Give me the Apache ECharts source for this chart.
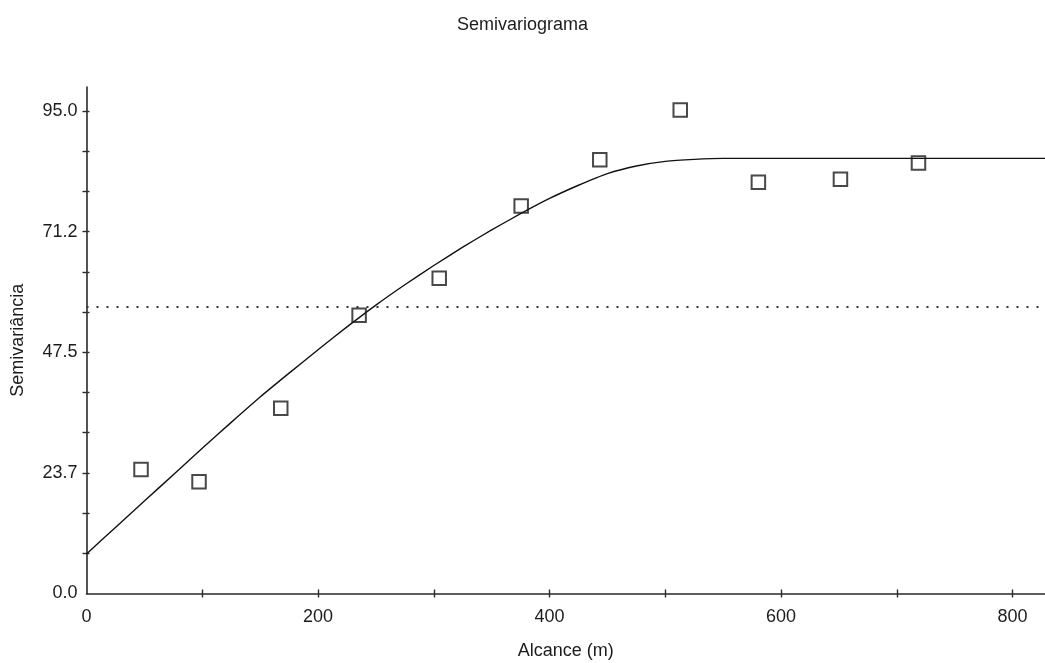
<!DOCTYPE html>
<html>
<head>
<meta charset="utf-8">
<script src="https://cdn.jsdelivr.net/npm/echarts@6/dist/echarts.min.js"></script>
<style>
  html, body { margin: 0; padding: 0; background: #fff; }
  #chart { width: 1045px; height: 663px; }
</style>
</head>
<body>
<div id="chart"></div>
<script>
// Experimental semivariance by lag distance
const lagDistance = [47.1, 97.2, 167.8, 235.5, 304.7, 375.5, 443.4, 512.9, 580.4, 651.3, 718.7];
const semivariance = [24.4, 22.0, 36.5, 54.8, 62.1, 76.3, 85.4, 95.2, 81.0, 81.6, 84.8];

// Fitted model curve
const modelDistance = [0, 25, 50, 75, 100, 125, 150, 175, 200, 225, 250, 275, 300, 325, 350, 375, 400, 425, 450, 475, 500, 525, 550, 828];
const modelValue = [7.8, 13.0, 18.2, 23.4, 28.6, 33.7, 38.7, 43.4, 48.0, 52.5, 56.8, 60.8, 64.6, 68.2, 71.6, 74.8, 77.8, 80.4, 82.7, 84.2, 85.1, 85.5, 85.7, 85.7];

// Sample variance reference line
const sampleVariance = 56.4;

// Axis ticks and labels
const xMax = 828;
const xLabelValues = [0, 200, 400, 600, 800];
const xTickValues = [100, 200, 300, 400, 500, 600, 700, 800];
const yMax = 99.75;
const yLabelValues = [0, 23.75, 47.5, 71.25, 95];
const yLabelText = ['0.0', '23.7', '47.5', '71.2', '95.0'];
const yTickStep = 95 / 12;

const yTickValues = [];
for (let i = 1; i <= 12; i++) yTickValues.push(i * yTickStep);

const FONT = '"Liberation Sans", Arial, sans-serif';
const TEXT = '#1c1c1c';
const AXIS = '#2a2a2a';

const chart = echarts.init(document.getElementById('chart'), null, { renderer: 'canvas' });

const baseX = {
  type: 'value', min: 0, max: xMax, interval: 100,
  splitLine: { show: false }
};
const baseY = {
  type: 'value', min: 0, max: yMax, interval: yTickStep,
  splitLine: { show: false }
};

chart.setOption({
  animation: false,
  backgroundColor: '#fff',
  title: {
    text: 'Semivariograma',
    left: 'center', top: 11,
    textStyle: { fontFamily: FONT, fontSize: 18, fontWeight: 'normal', color: TEXT }
  },
  grid: { left: 86.5, right: 0, top: 87, bottom: 69.5, containLabel: false, outerBoundsMode: 'none' },
  xAxis: [
    Object.assign({}, baseX, {
      position: 'bottom',
      name: 'Alcance (m)', nameLocation: 'middle', nameGap: 49,
      nameTextStyle: { fontFamily: FONT, fontSize: 18, color: TEXT },
      axisLine: { lineStyle: { color: AXIS, width: 1.6 } },
      axisTick: { show: true, inside: false, length: 4, customValues: xTickValues, lineStyle: { color: AXIS, width: 1.4 } },
      axisLabel: { customValues: xLabelValues, margin: 15, fontFamily: FONT, fontSize: 18, color: TEXT }
    }),
    Object.assign({}, baseX, {
      position: 'bottom',
      axisLine: { show: false },
      axisTick: { show: true, inside: true, length: 4, customValues: xTickValues, lineStyle: { color: AXIS, width: 1.4 } },
      axisLabel: { show: false }
    })
  ],
  yAxis: [
    Object.assign({}, baseY, {
      position: 'left',
      name: 'Semivariância', nameLocation: 'middle', nameGap: 59, nameRotate: 90,
      nameTextStyle: { fontFamily: FONT, fontSize: 18, color: TEXT },
      axisLine: { lineStyle: { color: AXIS, width: 1.6 } },
      axisTick: { show: true, inside: false, length: 4, customValues: yTickValues, lineStyle: { color: AXIS, width: 1.4 } },
      axisLabel: {
        customValues: yLabelValues, margin: 9, fontFamily: FONT, fontSize: 18, color: TEXT,
        formatter: function (v) {
          const i = yLabelValues.findIndex(function (t) { return Math.abs(t - v) < 1e-6; });
          return i >= 0 ? yLabelText[i] : '';
        }
      }
    }),
    Object.assign({}, baseY, {
      position: 'left',
      axisLine: { show: false },
      axisTick: { show: true, inside: true, length: 3, customValues: yTickValues, lineStyle: { color: AXIS, width: 1.4 } },
      axisLabel: { show: false }
    })
  ],
  series: [
    {
      name: 'variância',
      type: 'line',
      xAxisIndex: 0, yAxisIndex: 0,
      data: [[0, sampleVariance], [xMax, sampleVariance]],
      showSymbol: false, silent: true,
      lineStyle: { color: '#333', width: 2, type: [2, 8] }
    },
    {
      name: 'modelo',
      type: 'line',
      xAxisIndex: 0, yAxisIndex: 0,
      data: modelDistance.map(function (d, i) { return [d, modelValue[i]]; }),
      showSymbol: false, smooth: 0.2,
      lineStyle: { color: '#111', width: 1.4 }
    },
    {
      name: 'experimental',
      type: 'scatter',
      xAxisIndex: 0, yAxisIndex: 0,
      data: lagDistance.map(function (d, i) { return [d, semivariance[i]]; }),
      symbol: 'rect', symbolSize: 13.5,
      itemStyle: { color: 'rgba(255,255,255,0)', borderColor: '#1a1a1a', borderWidth: 2 },
      z: 5
    }
  ]
});
</script>
</body>
</html>
